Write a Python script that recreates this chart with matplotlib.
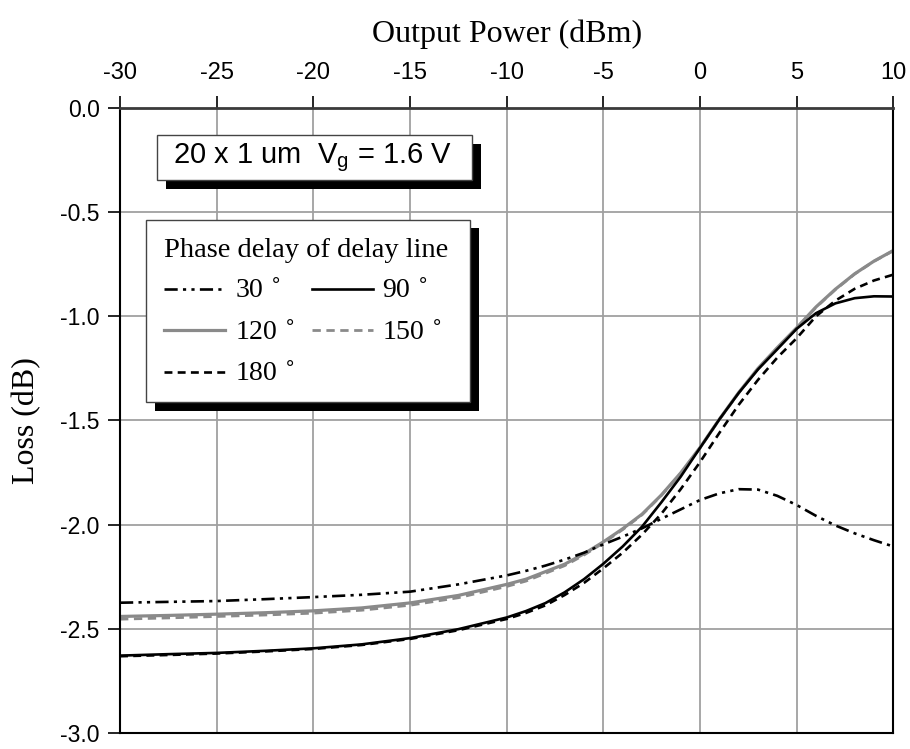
import numpy as np
import matplotlib.pyplot as plt
from matplotlib.patches import Rectangle

plt.rcParams['axes.unicode_minus'] = False

# valores
power = [-30, -27.5, -25, -22.5, -20, -17.5, -15, -12.5, -10, -9, -8, -7, -6,
         -5, -4, -3, -2, -1, 0, 1, 2, 3, 4, 5, 6, 7, 8, 9, 10]

loss_30 = [-2.375, -2.371, -2.367, -2.358, -2.348, -2.337, -2.322, -2.287, -2.244,
           -2.222, -2.197, -2.168, -2.135, -2.095, -2.058, -2.018, -1.972, -1.927,
           -1.882, -1.850, -1.830, -1.832, -1.862, -1.906, -1.958, -2.004, -2.042,
           -2.075, -2.105]
loss_90 = [-2.629, -2.622, -2.616, -2.606, -2.594, -2.575, -2.545, -2.502, -2.446,
           -2.415, -2.377, -2.325, -2.262, -2.188, -2.105, -2.010, -1.893, -1.770,
           -1.632, -1.495, -1.368, -1.255, -1.158, -1.060, -0.985, -0.938, -0.913,
           -0.904, -0.905]
loss_120 = [-2.441, -2.436, -2.430, -2.423, -2.414, -2.400, -2.376, -2.340, -2.287,
            -2.262, -2.226, -2.190, -2.140, -2.083, -2.020, -1.950, -1.858, -1.752,
            -1.630, -1.494, -1.366, -1.250, -1.150, -1.055, -0.955, -0.870, -0.796,
            -0.735, -0.684]
loss_150 = [-2.454, -2.448, -2.441, -2.434, -2.425, -2.411, -2.387, -2.351, -2.297,
            -2.271, -2.234, -2.197, -2.146, -2.088, -2.024, -1.953, -1.860, -1.754,
            -1.632, -1.496, -1.368, -1.252, -1.152, -1.057, -0.957, -0.872, -0.797,
            -0.736, -0.685]
loss_180 = [-2.632, -2.626, -2.619, -2.609, -2.597, -2.578, -2.549, -2.507, -2.453,
            -2.424, -2.388, -2.338, -2.280, -2.210, -2.135, -2.048, -1.948, -1.830,
            -1.700, -1.560, -1.425, -1.305, -1.198, -1.105, -1.000, -0.925, -0.868,
            -0.828, -0.800]

xticks = np.arange(-30, 11, 5)
yticks = np.arange(-3.0, 0.01, 0.5)

serif = 'Liberation Serif'
sans = 'Liberation Sans'

fig = plt.figure(figsize=(9.1, 7.49), dpi=100)
ax = fig.add_axes([0.1319, 0.0215, 0.8498, 0.8343])

gris = '#8a8a8a'
l120, = ax.plot(power, loss_120, color=gris, lw=2.3, label='120')
l150, = ax.plot(power, loss_150, color=gris, lw=2.0, ls=(0, (3, 2)), label='150')
l30, = ax.plot(power, loss_30, color='black', lw=1.9, ls=(0, (5, 2, 1.2, 2, 1.2, 2)), label='30')
l180, = ax.plot(power, loss_180, color='black', lw=1.9, ls=(0, (3, 2)), label='180')
l90, = ax.plot(power, loss_90, color='black', lw=1.9, label='90')

ax.set_xlim(-30, 10)
ax.set_ylim(-3.0, 0.0)
ax.set_xticks(xticks)
ax.set_yticks(yticks)
ax.set_yticklabels(['%.1f' % v for v in yticks])
ax.xaxis.tick_top()
ax.xaxis.set_label_position('top')
ax.grid(True, color='#a0a0a0', lw=1.3)
ax.set_axisbelow(True)

ax.tick_params(axis='x', direction='out', length=8.6, width=1.2, pad=9,
               labelsize=17, colors='black')
ax.tick_params(axis='y', direction='out', length=8.6, width=1.2, pad=6,
               labelsize=16.5)
for lab in ax.get_xticklabels() + ax.get_yticklabels():
    lab.set_fontfamily(sans)

for s in ['left', 'right', 'bottom']:
    ax.spines[s].set_linewidth(1.5)
    ax.spines[s].set_color('black')
ax.spines['top'].set_linewidth(2.0)
ax.spines['top'].set_color('#3a3a3a')

ax.set_xlabel('Output Power (dBm)', fontfamily=serif, fontsize=23, labelpad=14)
ax.set_ylabel('Loss (dB)', fontfamily=serif, fontsize=23, labelpad=14)

# caja de texto con sombra
ax.add_patch(Rectangle((0.0598, 0.8696), 0.4070, 0.0725, transform=ax.transAxes,
                       facecolor='black', edgecolor='none', zorder=6))
ax.add_patch(Rectangle((0.0482, 0.8847), 0.4070, 0.0725, transform=ax.transAxes,
                       facecolor='white', edgecolor='#444444', lw=1.0, zorder=7))
ax.text(0.0685, 0.921, r'20 x 1 um  $\mathregular{V_g}$ = 1.6 V', transform=ax.transAxes,
        fontfamily=sans, fontsize=21, va='center', ha='left', zorder=8)

# leyenda con sombra
ax.add_patch(Rectangle((0.0452, 0.5156), 0.4190, 0.2924, transform=ax.transAxes,
                       facecolor='black', edgecolor='none', zorder=6))
ax.add_patch(Rectangle((0.0336, 0.5288), 0.4190, 0.2924, transform=ax.transAxes,
                       facecolor='white', edgecolor='#444444', lw=1.0, zorder=7))

handles = [l30, l120, l180, l90, l150]
labels = [h.get_label() + r' $^{\circ}$' for h in handles]
leg = ax.legend(handles, labels, ncol=2, loc='upper left',
                bbox_to_anchor=(0.0336, 0.8212), borderaxespad=0, frameon=False,
                title='Phase delay of delay line', alignment='left',
                prop={'family': serif, 'size': 20},
                title_fontproperties={'family': serif, 'size': 20.5},
                handlelength=2.2, handletextpad=0.35, columnspacing=0.6,
                labelspacing=0.58, borderpad=0.65)
leg.set_zorder(9)

fig.savefig('out.png', dpi=100)
